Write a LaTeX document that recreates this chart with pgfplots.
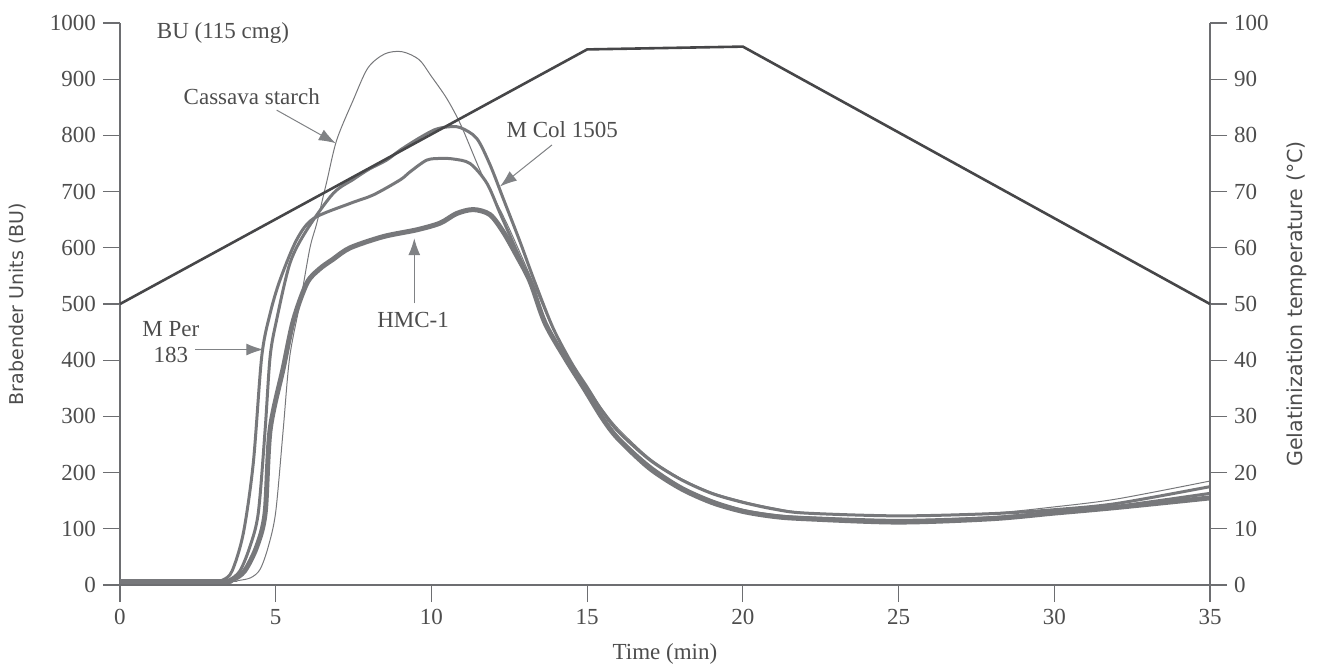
\documentclass[border=0pt]{standalone}
\usepackage{fontspec}
\setmainfont{Liberation Serif}
\newfontfamily\sansf{DejaVu Sans}
\usepackage{pgfplots}
\pgfplotsset{compat=1.18}
\usetikzlibrary{arrows.meta}

\definecolor{curve}{HTML}{77787B}
\definecolor{temp}{HTML}{464648}
\definecolor{axisc}{HTML}{6D6E71}
\definecolor{txt}{HTML}{4D4D4D}
\definecolor{arr}{HTML}{808285}

\tikzset{
  lbl/.style={font=\fontsize{11.5}{13}\selectfont, text=txt},
  pointer/.style={draw=arr, line width=0.5pt, -{Latex[length=8.5pt,width=6pt]}},
}
\pgfplotsset{
  base/.style={
    scale only axis, width=545pt, height=281pt,
    xmin=0, xmax=35, clip=false,
    ticklabel style={font=\fontsize{11.5}{13}\selectfont, text=txt},
    /pgf/number format/assume math mode=true,
    /pgf/number format/1000 sep={},
  },
  lines/.style={
    tick align=outside, major tick length=8.5pt,
    axis line style={-, draw=axisc, line width=0.6pt},
    every outer x axis line/.append style={-},
    every outer y axis line/.append style={-},
    tick style={draw=axisc, line width=0.6pt},
  },
}

\begin{document}
\begin{tikzpicture}
\useasboundingbox (-60pt,-40.5pt) rectangle (598.5pt,292.5pt);

\begin{axis}[base,
  axis y line=left, axis x line=bottom, lines,
  ymin=0, ymax=1000,
  ytick={0,100,...,1000}, xtick={0,5,...,35},
  xlabel={Time (min)},
  xlabel style={lbl, at={(axis description cs:0.5,0)}, anchor=center, yshift=-34.5pt},
  ylabel={\sansf Brabender Units (BU)},
  ylabel style={font=\fontsize{9.5}{11}\selectfont, text=txt,
    at={([xshift=-51pt]rel axis cs:0,0.5)}, anchor=center},
]
% Cassava starch (thin)
\addplot[curve, line width=0.5pt, smooth] coordinates {
 (0,6) (3.4,6) (3.8,8) (4.2,13) (4.5,28) (4.76,68) (5.0,130) (5.24,276)
 (5.45,406) (5.8,507) (6.1,600) (6.32,644) (6.64,718) (6.96,792) (7.49,863)
 (7.96,920) (8.5,945) (9.05,949) (9.6,935) (10.0,905) (10.5,865) (10.95,818)
 (11.56,738) (12.0,690) (12.45,640) (12.95,578) (13.4,520) (13.85,462) (14.45,400)
 (15.0,352) (15.5,312) (16.0,278) (17.0,226) (18.0,190) (19.0,165) (20.0,149)
 (21.0,137) (22.0,129) (25,122) (28,128) (30,139) (32,153) (35,185)
};
% M Col 1505
\addplot[curve, line width=1.5pt, smooth] coordinates {
 (0,6) (3.1,6) (3.5,9) (3.85,25) (4.17,68) (4.44,128) (4.66,276) (4.82,406)
 (5.03,472) (5.46,573) (6.0,632) (6.85,697) (7.5,722) (8.0,740) (8.56,756)
 (9.0,774) (9.6,795) (10.1,810) (10.5,815) (10.92,814) (11.45,795) (11.88,748)
 (12.31,687) (12.85,610) (13.3,542) (13.9,458) (14.5,395) (15.0,352) (15.5,308)
 (16.0,273) (17.0,223) (18.0,188) (19.0,163) (20.0,147) (21.0,135) (22.0,128)
 (25,123) (28,127) (30,134) (32,145) (35,175)
};
% M Per 183
\addplot[curve, line width=1.5pt, smooth] coordinates {
 (0,6) (2.9,6) (3.3,9) (3.6,25) (3.96,92) (4.28,217) (4.55,406) (4.82,483)
 (5.14,543) (5.67,614) (6.21,652) (7.39,679) (8.13,694) (9.0,721) (9.31,735)
 (9.85,756) (10.3,759) (10.7,758) (11.24,750) (11.78,715) (12.2,662)
 (12.63,608) (13.17,540) (13.65,466) (14.3,403) (14.9,350) (15.5,298)
 (16.0,262) (17.0,212) (18.0,175) (19.0,150) (20.0,133) (21.0,124) (22.0,120)
 (25,115) (28,120) (30,130) (32,140) (35,163)
};
% HMC-1 (thick)
\addplot[curve, line width=2.5pt, smooth] coordinates {
 (0,6) (3.2,6) (3.6,9) (4.0,25) (4.39,68) (4.66,128) (4.82,276) (5.25,388)
 (5.57,471) (6.0,537) (6.4,562) (6.85,580) (7.39,600) (8.46,620) (9.53,632)
 (10.28,644) (10.81,661) (11.35,668) (11.88,659) (12.31,628) (12.74,586)
 (13.17,540) (13.65,466) (14.3,403) (14.9,350) (15.5,296) (16.0,260)
 (17.0,208) (18.0,172) (19.0,147) (20.0,131) (21.0,122) (22.0,118)
 (25,112) (28,118) (30,128) (32,138) (35,155)
};

\node[lbl, anchor=west] at (axis cs:0.96,982) {BU (115 cmg)};
\node[lbl, anchor=west] at (axis cs:1.82,869) {Cassava starch};
\draw[pointer] (axis cs:5.03,845) -- (axis cs:6.93,786);
\node[lbl] at (axis cs:14.2,810) {M Col 1505};
\draw[pointer] (axis cs:13.87,783) -- (axis cs:12.2,709);
\node[lbl] at (axis cs:9.41,471) {HMC-1};
\draw[pointer] (axis cs:9.45,501) -- (axis cs:9.45,617);
\node[lbl, align=center] at (axis cs:1.63,433) {M Per\\183};
\draw[pointer] (axis cs:2.41,419) -- (axis cs:4.6,419);
\end{axis}

\begin{axis}[base,
  axis y line=right, axis x line=none, lines,
  ymin=0, ymax=100, ytick={0,10,...,100},
  ylabel={\sansf Gelatinization temperature (°C)},
  ylabel style={font=\fontsize{10.3}{12}\selectfont, text=txt,
    at={([xshift=43.5pt]rel axis cs:1,0.5)}, anchor=center, rotate=0},
]
\addplot[temp, line width=1.3pt] coordinates {
 (0,50) (15.0,95.3) (20.0,95.8) (35,50)
};
\end{axis}
\end{tikzpicture}
\end{document}
